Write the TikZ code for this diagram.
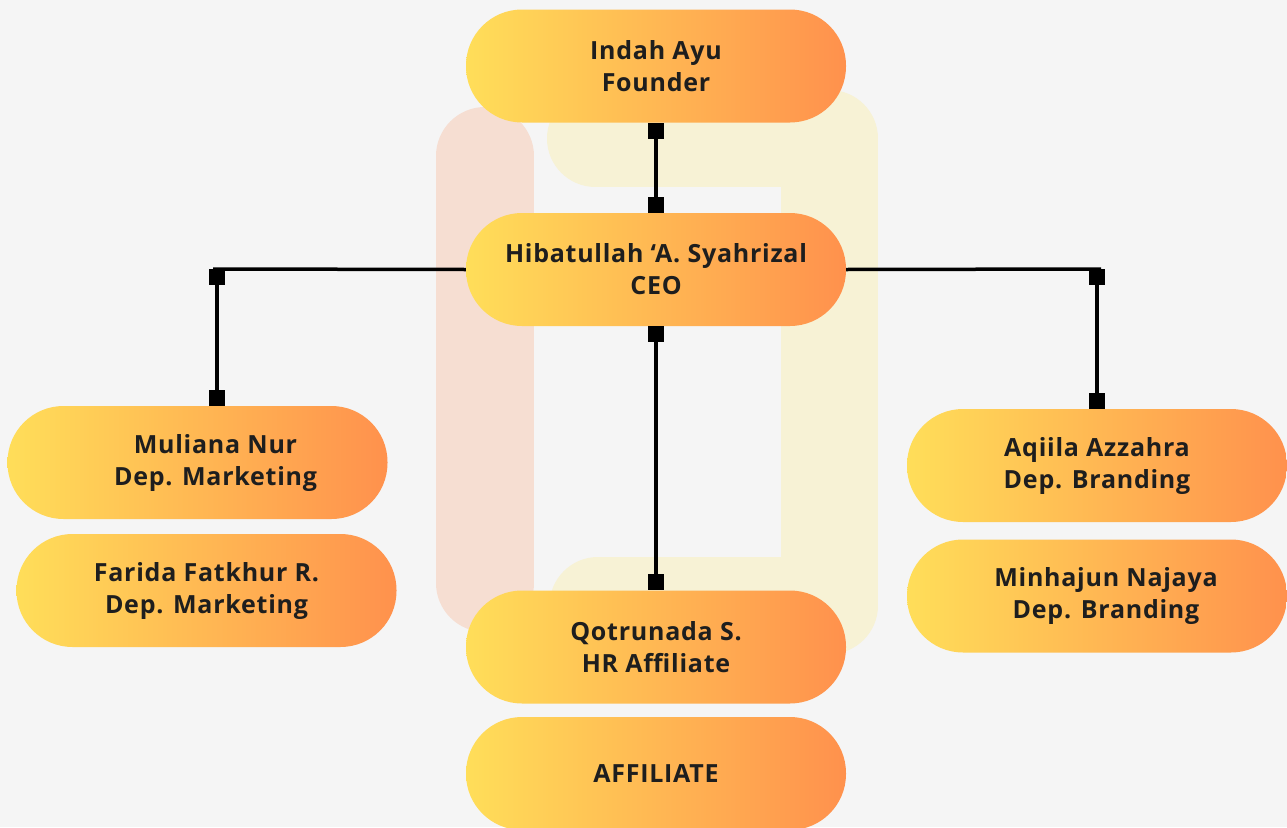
\documentclass[tikz,border=0pt]{standalone}
\usepackage{fontspec}
\setmainfont{Open Sans}[UprightFont=* Bold]
\usetikzlibrary{arrows.meta}
\definecolor{orgcolorbg}{RGB}{245,245,245}
\definecolor{orgcolorpeach}{RGB}{246,222,210}
\definecolor{orgcolorcream}{RGB}{247,242,213}
\definecolor{orgcoloryellow}{RGB}{255,222,89}
\definecolor{orgcolororange}{RGB}{255,145,77}
\definecolor{orgcolortext}{RGB}{30,30,30}
\begin{document}
\begin{tikzpicture}[yscale=-1
,pill/.style={rounded corners=56pt,minimum width=380pt,minimum height=113pt,inner sep=0pt,
  left color=orgcoloryellow,right color=orgcolororange,text=orgcolortext,align=center,
  font=\fontsize{25}{32}\selectfont\addfontfeatures{LetterSpace=3}}
,link/.style={line width=3.5pt,color=black}
,linkends/.style={link,{Square[length=16pt,width=16pt]}-{Square[length=16pt,width=16pt]}}
]
\useasboundingbox (0pt,0pt) rectangle (1287pt,827pt);
\fill[orgcolorbg] (0pt,0pt) rectangle (1287pt,827pt);
% background bands
\draw[orgcolorpeach,line width=98pt,line cap=round] (485pt,156pt) -- (485pt,583pt);
\draw[orgcolorcream,line width=97pt,line cap=round,line join=round] (595.5pt,138.5pt) -- (829.5pt,138.5pt) -- (829.5pt,605.5pt) -- (598pt,605.5pt);
% people
\node[pill] (founder) at (656pt,66pt) {Indah Ayu\\Founder};
\node[pill] (ceo) at (656pt,269.5pt) {Hibatullah ‘A. Syahrizal\\CEO};
\node[pill] (marketa) at (197.5pt,462.5pt) {\hspace*{36pt}Muliana Nur\\\hspace*{36pt}Dep. Marketing};
\node[pill] (marketb) at (206.5pt,590.5pt) {Farida Fatkhur R.\\Dep. Marketing};
\node[pill] (branda) at (1097pt,465.5pt) {Aqiila Azzahra\\Dep. Branding};
\node[pill] (brandb) at (1097pt,596pt) {\hspace*{18pt}Minhajun Najaya\\\hspace*{18pt}Dep. Branding};
\node[pill] (hr) at (656pt,647pt) {Qotrunada S.\\HR Affiliate};
\node[pill] (affiliate) at (656pt,773.5pt) {AFFILIATE};
% connectors
\coordinate (leftcorner) at (217pt,269pt);
\coordinate (rightcorner) at (1097pt,269pt);
\draw[linkends] (founder) -- (ceo);
\draw[linkends] (ceo) -- (hr);
\draw[link] (ceo.west) -- ([xshift=-4pt]leftcorner);
\draw[link] (ceo.east) -- ([xshift=4pt]rightcorner);
\draw[linkends] (leftcorner) -- (leftcorner |- marketa.north);
\draw[linkends] (rightcorner) -- (rightcorner |- branda.north);
\end{tikzpicture}
\end{document}
